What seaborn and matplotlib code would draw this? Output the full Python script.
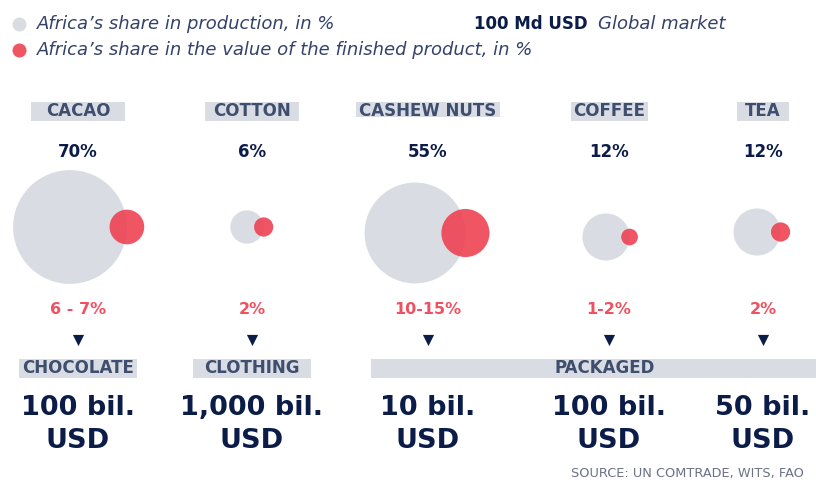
import matplotlib
matplotlib.use("Agg")
import matplotlib.pyplot as plt
from matplotlib.patches import Rectangle
import seaborn as sns
import numpy as np
import pandas as pd

# --- data ---
crops = ["CACAO", "COTTON", "CASHEW NUTS", "COFFEE", "TEA"]
production_share = [70, 6, 55, 12, 12]          # Africa's share in production, %
production_labels = ["70%", "6%", "55%", "12%", "12%"]
value_share = [6.5, 2, 12.5, 1.5, 2]            # share in value of finished product, %
value_labels = ["6 - 7%", "2%", "10-15%", "1-2%", "2%"]
products = ["CHOCOLATE", "CLOTHING", "PACKAGED"]
market_labels = ["100 bil.", "1,000 bil.", "10 bil.", "100 bil.", "50 bil."]

# --- layout (pixels) ---
col_x = [78, 252, 428, 609, 763]
circle_x = [70, 247, 415, 606, 757]
circle_y = [227, 227, 233, 237, 232]
crop_boxes = [(31, 94), (205, 94), (356, 144), (571, 77), (737, 52)]
product_boxes = [(19, 118, 78), (193, 118, 252), (371, 445, 605)]
K = 6.8  # px radius per sqrt(%)

NAVY = "#0c1c48"
LABEL = "#3d4e6e"
BOX = "#d9dce3"
RED = "#ee4252"
REDTXT = "#f0505f"
LEGTXT = "#34426a"

sns.set_theme(style="white")
plt.rcParams["font.family"] = ["DejaVu Sans"]

fig = plt.figure(figsize=(8.16, 4.8), dpi=100)
ax = fig.add_axes([0, 0, 1, 1])
ax.set_xlim(0, 816)
ax.set_ylim(480, 0)
ax.axis("off")


def px_to_s(r):
    # marker area in pt^2 for a circle of radius r pixels at 100 dpi
    return (2 * r * 0.72) ** 2


df = pd.DataFrame({
    "crop": crops,
    "prod": production_share,
    "value": value_share,
    "x": circle_x,
    "y": circle_y,
})
df["r_prod"] = K * np.sqrt(df["prod"])
df["r_val"] = K * np.sqrt(df["value"])
df["x_val"] = df["x"] + df["r_prod"]

sns.scatterplot(data=df, x="x", y="y", s=px_to_s(df["r_prod"]), color=BOX,
                linewidth=0, ax=ax, legend=False, zorder=2)
sns.scatterplot(data=df, x="x_val", y="y", s=px_to_s(df["r_val"]), color=RED,
                alpha=0.9, linewidth=0, ax=ax, legend=False, zorder=3)

# legend
sns.scatterplot(x=[19], y=[24], s=px_to_s(7), color=BOX, linewidth=0, ax=ax, legend=False)
sns.scatterplot(x=[19], y=[50], s=px_to_s(7), color=RED, alpha=0.9, linewidth=0, ax=ax, legend=False)
ax.text(37, 24, "Africa’s share in production, in %", style="italic",
        fontsize=13, color=LEGTXT, va="center", ha="left")
ax.text(37, 50, "Africa’s share in the value of the finished product, in %", style="italic",
        fontsize=13, color=LEGTXT, va="center", ha="left")
ax.text(588, 24, "100 Md USD", fontweight="bold", fontsize=12, color=NAVY, va="center", ha="right")
ax.text(598, 24, "Global market", style="italic", fontsize=13,
        color=LEGTXT, va="center", ha="left")

# crop headers
for (bx, bw), cx, name in zip(crop_boxes, col_x, crops):
    ax.add_patch(Rectangle((bx, 102), bw, 19 if name != "CASHEW NUTS" else 15,
                           color=BOX, lw=0, zorder=1))
    ax.text(cx, 111, name, fontweight="bold", fontsize=12, color=LABEL,
            ha="center", va="center", zorder=2)

for cx, lab in zip(col_x, production_labels):
    ax.text(cx, 152, lab, fontweight="bold", fontsize=12, color=NAVY, ha="center", va="center")

for cx, lab in zip(col_x, value_labels):
    ax.text(cx, 309, lab, fontweight="bold", fontsize=11.5, color=REDTXT, ha="center", va="center")

sns.scatterplot(x=col_x, y=[340] * 5, marker="v", s=65, color=NAVY, linewidth=0,
                ax=ax, legend=False)

# products
for (bx, bw, tx), name in zip(product_boxes, products):
    ax.add_patch(Rectangle((bx, 359), bw, 19, color=BOX, lw=0, zorder=1))
    ax.text(tx, 368, name, fontweight="bold", fontsize=12, color=LABEL,
            ha="center", va="center", zorder=2)

for cx, lab in zip(col_x, market_labels):
    ax.text(cx, 408, lab, fontweight="bold", fontsize=19.5, color=NAVY, ha="center", va="center")
    ax.text(cx, 441, "USD", fontweight="bold", fontsize=19.5, color=NAVY, ha="center", va="center")

ax.text(571, 473, "SOURCE: UN COMTRADE, WITS, FAO", fontsize=9.3, color="#6b7285",
        ha="left", va="center")

fig.savefig("out.png", dpi=100)
